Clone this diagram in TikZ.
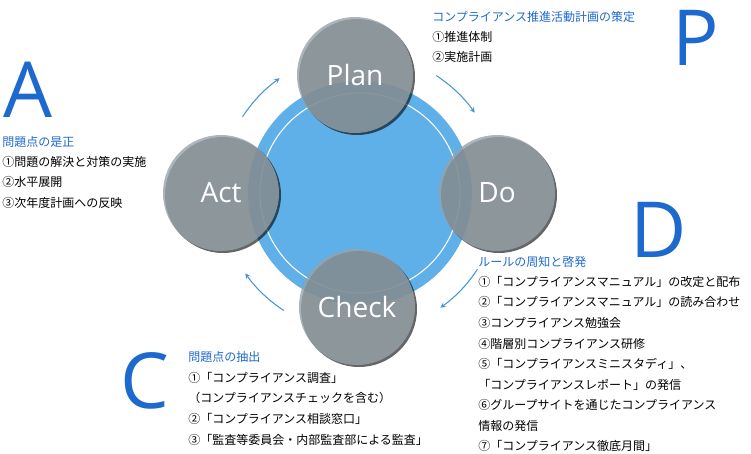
\documentclass[tikz,border=0pt]{standalone}
\usepackage{fontspec}
\setmainfont{Noto Sans CJK JP}
\newfontfamily\latn{Open Sans}
\usetikzlibrary{shadows}
\definecolor{pdblue}{RGB}{30,105,205}
\definecolor{ringblue}{RGB}{95,175,232}
\definecolor{arrblue}{RGB}{70,150,215}
\definecolor{stepgray}{RGB}{150,163,170}
\tikzstyle{phase} = [circle,minimum size=116*0.75pt,inner sep=0pt,fill=stepgray,fill opacity=0.8,text opacity=1,text=white,font=\latn\fontsize{21}{21}\selectfont,drop shadow={shadow xshift=1.5pt,shadow yshift=-1.5pt,opacity=0.6,fill=black}]
\tikzstyle{bigletter} = [anchor=north west,inner sep=0pt,text=pdblue,font=\latn\fontsize{58}{58}\selectfont]
\tikzstyle{title} = [anchor=north west,inner sep=0pt,text=pdblue,font=\fontsize{9}{15.4}\selectfont]
\tikzstyle{items} = [anchor=north west,inner sep=0pt,align=left,font=\fontsize{9}{15.4}\selectfont]
\tikzstyle{arrow} = [thick,arrblue,->,>=stealth]

\begin{document}
\begin{tikzpicture}[x=0.75pt,y=-0.75pt]
\useasboundingbox (0,0) rectangle (751,454);

\fill[ringblue] (360,193) circle (112);
\draw[white,thick] (360,193) circle (100);

\node (plan) [phase] at (355,75) {Plan};
\node (do) [phase] at (497,193) {Do};
\node (check) [phase] at (357,307) {Check};
\node (act) [phase] at (221,193) {Act};

% cycle arrows
\draw [arrow] (360,193) ++(-147:140) arc (-147:-125:140);
\draw [arrow] (360,193) ++(-57:140) arc (-57:-35:140);
\draw [arrow] (360,193) ++(33:140) arc (33:55:140);
\draw [arrow] (360,193) ++(123:140) arc (123:145:140);

\node (P) [bigletter] at (672,10) {P};
\node (ptitle) [title] at (432,11) {コンプライアンス推進活動計画の策定};
\node (pitems) [items] at (432,31) {①推進体制\\②実施計画};

\node (A) [bigletter] at (3,62) {A};
\node (atitle) [title] at (2,136) {問題点の是正};
\node (aitems) [items] at (2,156) {①問題の解決と対策の実施\\②水平展開\\③次年度計画への反映};

\node (D) [bigletter] at (630,202) {D};
\node (dtitle) [title] at (478,256) {ルールの周知と啓発};
\node (ditems) [items] at (478,276) {①「コンプライアンスマニュアル」の改定と配布\\②「コンプライアンスマニュアル」の読み合わせ\\③コンプライアンス勉強会\\④階層別コンプライアンス研修\\⑤「コンプライアンスミニスタディ」、\\「コンプライアンスレポート」の発信\\⑥グループサイトを通じたコンプライアンス\\情報の発信\\⑦「コンプライアンス徹底月間」};

\node (C) [bigletter] at (120,352) {C};
\node (ctitle) [title] at (188,351) {問題点の抽出};
\node (citems) [items] at (188,372) {①「コンプライアンス調査」\\（コンプライアンスチェックを含む）\\②「コンプライアンス相談窓口」\\③「監査等委員会・内部監査部による監査」};
\end{tikzpicture}
\end{document}
